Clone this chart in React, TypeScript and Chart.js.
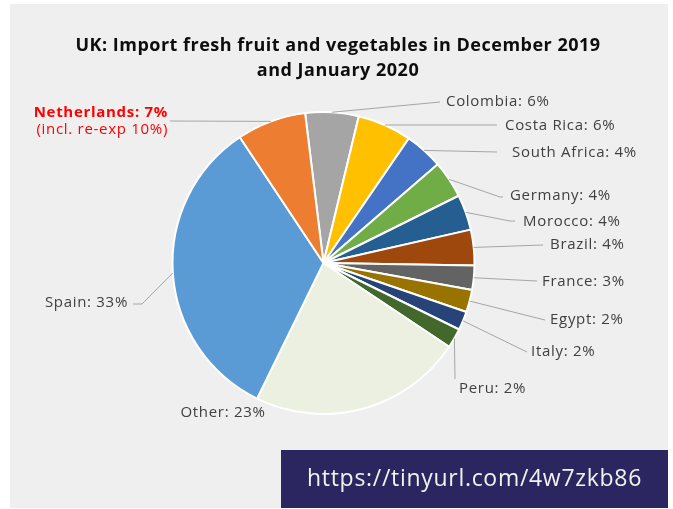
import React, { useEffect, useRef } from 'react';
import { Chart, registerables } from 'chart.js';

Chart.register(...registerables);

const TITLE_LINES = ['UK: Import fresh fruit and vegetables in December 2019', 'and January 2020'];
const COUNTRIES = ['Colombia', 'Costa Rica', 'South Africa', 'Germany', 'Morocco', 'Brazil', 'France', 'Egypt', 'Italy', 'Peru', 'Other', 'Spain', 'Netherlands'];
const SHARES = [5.7, 5.8, 4.1, 4.0, 3.8, 3.8, 2.6, 2.4, 2.0, 2.1, 22.9, 33.4, 7.4];
const COLORS = ['#A5A5A5', '#FFC000', '#4472C4', '#70AD47', '#255E91', '#9E480E', '#636363', '#997300', '#264478', '#43682B', '#EBF0E0', '#5B9BD5', '#ED7D31'];
const HIGHLIGHT = 'Netherlands';
const HIGHLIGHT_NOTE = '(incl. re-exp 10%)';
const SOURCE_URL = 'https://tinyurl.com/4w7zkb86';

// Label placement (annotation layout, Excel-style manual positions)
type Layout = { pts: number[][]; tx: number; ty: number; align: CanvasTextAlign };
const LABEL_LAYOUT: Layout[] = [
  { pts: [[440, 102]], tx: 446, ty: 102, align: 'left' },
  { pts: [[497, 125]], tx: 505, ty: 126, align: 'left' },
  { pts: [[497, 152]], tx: 512, ty: 153, align: 'left' },
  { pts: [[500, 197], [503, 197]], tx: 510, ty: 196, align: 'left' },
  { pts: [[510, 221], [515, 221]], tx: 523, ty: 222, align: 'left' },
  { pts: [[543, 245]], tx: 550, ty: 245, align: 'left' },
  { pts: [[537, 281]], tx: 542, ty: 282, align: 'left' },
  { pts: [[545, 320]], tx: 550, ty: 320, align: 'left' },
  { pts: [[527, 352]], tx: 531, ty: 352, align: 'left' },
  { pts: [[455, 379]], tx: 459, ty: 389, align: 'left' },
  { pts: [], tx: 223, ty: 413, align: 'center' },
  { pts: [[142, 304], [133, 304]], tx: 128, ty: 303, align: 'right' },
  { pts: [[170, 121]], tx: 168, ty: 113, align: 'right' },
];

const FONT = '"Open Sans", "DejaVu Sans", sans-serif';

function setSpacing(ctx: any, v: string) {
  if ('letterSpacing' in ctx) ctx.letterSpacing = v;
}

const decorPlugin = {
  id: 'decor',
  beforeDraw(chart: any) {
    const ctx = chart.ctx as CanvasRenderingContext2D;
    ctx.save();
    ctx.fillStyle = '#FFFFFF';
    ctx.fillRect(0, 0, chart.width, chart.height);
    ctx.fillStyle = '#EFEFEF';
    ctx.fillRect(10, 4, 658, 504);
    // title
    ctx.fillStyle = '#0D0D0D';
    ctx.font = `bold 18px ${FONT}`;
    setSpacing(ctx, '0.5px');
    ctx.textAlign = 'center';
    ctx.textBaseline = 'middle';
    ctx.fillText(TITLE_LINES[0], 338, 46);
    ctx.fillText(TITLE_LINES[1], 338, 71);
    ctx.restore();
  },
  afterDraw(chart: any) {
    const ctx = chart.ctx as CanvasRenderingContext2D;
    const meta = chart.getDatasetMeta(0);
    const total = SHARES.reduce((a, b) => a + b, 0);
    ctx.save();
    meta.data.forEach((arc: any, i: number) => {
      const p = arc.getProps(['x', 'y', 'startAngle', 'endAngle', 'outerRadius'], true);
      const mid = (p.startAngle + p.endAngle) / 2;
      const ax = p.x + Math.cos(mid) * p.outerRadius;
      const ay = p.y + Math.sin(mid) * p.outerRadius;
      const L = LABEL_LAYOUT[i];
      if (L.pts.length) {
        ctx.strokeStyle = '#A6A6A6';
        ctx.lineWidth = 1;
        ctx.beginPath();
        ctx.moveTo(ax, ay);
        L.pts.forEach(([px, py]) => ctx.lineTo(px, py));
        ctx.stroke();
      }
      const pct = Math.round((SHARES[i] / total) * 100);
      const text = `${COUNTRIES[i]}: ${pct}%`;
      ctx.textAlign = L.align;
      ctx.textBaseline = 'middle';
      setSpacing(ctx, '0.7px');
      if (COUNTRIES[i] === HIGHLIGHT) {
        ctx.fillStyle = '#FF0000';
        ctx.font = `bold 15px ${FONT}`;
        ctx.fillText(text, L.tx, L.ty);
        ctx.font = `15px ${FONT}`;
        ctx.fillText(HIGHLIGHT_NOTE, L.tx, L.ty + 17);
      } else {
        ctx.fillStyle = '#404040';
        ctx.font = `15px ${FONT}`;
        ctx.fillText(text, L.tx, L.ty);
      }
    });
    // source box
    ctx.fillStyle = '#2B2660';
    ctx.fillRect(281, 450, 387, 58);
    ctx.fillStyle = '#F2F2F2';
    ctx.font = `23px ${FONT}`;
    setSpacing(ctx, '0.7px');
    ctx.textAlign = 'center';
    ctx.textBaseline = 'middle';
    ctx.fillText(SOURCE_URL, 474.5, 479);
    ctx.restore();
  },
};

export default function App() {
  const ref = useRef<HTMLCanvasElement>(null);
  useEffect(() => {
    if (!ref.current) return;
    const chart = new Chart(ref.current, {
      type: 'pie',
      data: {
        labels: COUNTRIES,
        datasets: [
          {
            data: SHARES,
            backgroundColor: COLORS,
            borderColor: '#FFFFFF',
            borderWidth: 2,
          },
        ],
      },
      options: {
        animation: false,
        responsive: false,
        rotation: -7,
        layout: { padding: { left: 171.5, right: 197.5, top: 111, bottom: 94 } },
        plugins: {
          legend: { display: false },
          tooltip: { enabled: false },
          title: { display: false },
        },
      },
      plugins: [decorPlugin],
    });
    return () => chart.destroy();
  }, []);
  return (
    <div style={{ position: 'absolute', left: 0, top: 0, width: 673, height: 509 }}>
      <canvas ref={ref} width={673} height={509} />
    </div>
  );
}
